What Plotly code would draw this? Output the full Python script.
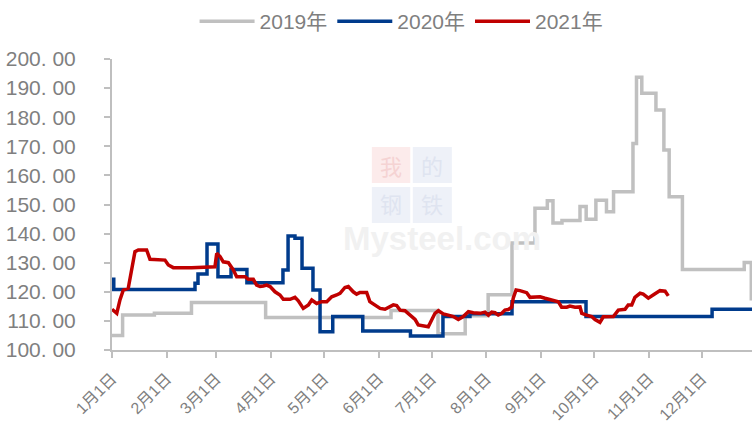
import plotly.graph_objects as go

# ---------------- data (x = day of year, 0 = 1月1日) ----------------
days_2019 = [0, 6, 24, 45, 87, 158, 184.6, 200, 213, 226.5, 239.5, 246.5, 249.7, 254.8,
             265, 268.5, 274, 280, 284, 295, 297, 300, 308, 312.5, 315.5, 323, 358, 362]
vals_2019 = [105, 112, 112.6, 116.3, 111.2, 113.6, 105.6, 111.8, 119, 136.8, 148.7, 151.3, 143.6, 144.5,
             149.3, 144.9, 151.5, 147.5, 154.4, 171, 193.7, 188.2, 182.5, 168.7, 152.7, 127.7, 130.1, 117]

days_2020 = [0, 1, 47, 48.7, 53.8, 60, 67.4, 76.4, 96.8, 99.7, 103.6, 107.6, 113.8, 117.8,
             125, 142, 169, 187.4, 202.7, 226.5, 268.4, 339.8, 362.4]
vals_2020 = [124.3, 120.8, 122.9, 126.1, 136.4, 125.2, 127.7, 123.1, 127.5, 139.2, 138.4, 128.1, 120.6, 106.3,
             111.5, 106.5, 104.8, 111.5, 112.5, 116.6, 111.5, 114, 114]

days_2021 = [0, 2.7, 4.5, 6.4, 9.2, 11.2, 13, 14.9, 19.6, 21.5, 30, 31.9, 34.7, 45.1, 58.3, 59.3, 61.2, 63,
             65.9, 66.8, 68.7, 70.6, 75.3, 77.2, 80, 81.9, 83.8, 85.7, 87.6, 89.5, 92.3, 95.1, 97, 100.8,
             103.6, 105.5, 108.3, 111.2, 113.1, 115.9, 118.7, 121.6, 124.4, 127.2, 129.1, 131.9, 133.8,
             136.6, 138.5, 140.4, 144.2, 146, 148.9, 151.8, 154.6, 157.4, 159.3, 161.2, 163.1, 165.9,
             168.7, 171.6, 173.4, 176.3, 179.1, 181, 182.9, 184.8, 187.6, 190.4, 193.3, 196.1, 198.9,
             201.8, 204.6, 208.4, 211.2, 213.1, 215, 216.9, 218.7, 220.7, 222.5, 224.4, 226.3, 227.2,
             228.8, 231, 234.8, 236.7, 239.5, 242.4, 245.2, 248, 250.8, 252.7, 254.6, 257.5, 259.3,
             262.2, 265, 266, 268.8, 271.6, 273.5, 276.3, 278.2, 281, 283.9, 286.7, 290.5, 292.3, 294.3,
             296.1, 299, 300.8, 303.7, 307.5, 310.3, 313.2, 315]
vals_2021 = [114, 112.6, 117.2, 120.6, 121.2, 128.6, 133.8, 134.4, 134.4, 131.2, 130.9, 129.2, 128.3, 128.3,
             128.6, 133.2, 132.1, 130.3, 130, 129.2, 127.5, 125.2, 125.2, 124.3, 124.3, 122.3, 121.8, 122,
             122.3, 121.8, 120, 118.9, 117.4, 117.4, 118.1, 116.9, 114.3, 115.5, 117.2, 116, 116.6, 116.6,
             118.3, 118.9, 119.5, 121.5, 121.8, 120, 119.2, 119.8, 119.8, 116.6, 115.5, 114.3, 114, 114.7,
             115.5, 115.3, 113.7, 113.5, 112, 110.5, 108.6, 108.2, 108, 110.3, 112.6, 113.5, 112.4, 112,
             111.5, 110.5, 111.5, 113.2, 112.8, 112.6, 113, 112, 113, 112.8, 112, 112.6, 113.7, 113.9,
             114.7, 117.8, 120.6, 120.4, 119.7, 118.1, 118.1, 118.3, 117.8, 117.4, 116.9, 116.6, 114.7,
             114.7, 115.1, 114.7, 114.8, 112.6, 112, 111.5, 110.5, 109.5, 111.4, 111.4, 111.5, 113.7,
             114, 115.5, 115.5, 118.1, 119.5, 119.2, 117.8, 119.3, 120.4, 120.2, 118.6]

series_names = ["2019年", "2020年", "2021年"]

month_start_days = [0, 31, 59, 90, 120, 151, 181, 212, 243, 273, 304, 334]
month_labels = ["1月1日", "2月1日", "3月1日", "4月1日", "5月1日", "6月1日",
                "7月1日", "8月1日", "9月1日", "10月1日", "11月1日", "12月1日"]

y_ticks = [100, 110, 120, 130, 140, 150, 160, 170, 180, 190, 200]
y_tick_labels = ["100. 00", "110. 00", "120. 00", "130. 00", "140. 00", "150. 00",
                 "160. 00", "170. 00", "180. 00", "190. 00", "200. 00"]

# ---------------- figure ----------------
FONT = "Liberation Sans, Noto Sans CJK SC, sans-serif"
GRAY_TXT = "#7f7f7f"
AXIS = "#bfbfbf"

fig = go.Figure()
fig.add_trace(go.Scatter(x=days_2019, y=vals_2019, name=series_names[0], mode="lines",
                         line=dict(color="#c0c0c0", width=3.5, shape="hv")))
fig.add_trace(go.Scatter(x=days_2020, y=vals_2020, name=series_names[1], mode="lines",
                         line=dict(color="#003b8c", width=3.5, shape="hv")))
fig.add_trace(go.Scatter(x=days_2021, y=vals_2021, name=series_names[2], mode="lines",
                         line=dict(color="#c00000", width=3.5, shape="linear")))

# watermark (faint, behind data)
shapes = []
boxes = [(0.406, 0.466, 0.574, 0.698, "#fcebeb"), (0.470, 0.531, 0.574, 0.698, "#eef1f8"),
         (0.406, 0.466, 0.436, 0.560, "#eef1f8"), (0.470, 0.531, 0.436, 0.560, "#eef1f8")]
for x0, x1, y0, y1, c in boxes:
    shapes.append(dict(type="rect", xref="paper", yref="paper", x0=x0, x1=x1, y0=y0, y1=y1,
                       fillcolor=c, line=dict(width=0), layer="below"))
annotations = []
chars = [("我", 0.436, 0.636, "#f5d3d3"), ("的", 0.5005, 0.636, "#dfe4f0"),
         ("钢", 0.436, 0.505, "#dfe4f0"), ("铁", 0.5005, 0.505, "#dfe4f0")]
for t, x, y, c in chars:
    annotations.append(dict(text=t, x=x, y=y, xref="paper", yref="paper", showarrow=False,
                            borderpad=0,
                            font=dict(size=22, color=c, family="Noto Sans CJK SC")))
annotations.append(dict(text="<b>Mysteel.com</b>", x=0.36, y=0.383, xref="paper", yref="paper",
                        xanchor="left", showarrow=False, borderpad=0,
                        font=dict(size=33, color="#f1f1f1", family="Liberation Sans")))

fig.update_layout(
    width=752, height=432,
    margin=dict(l=112, r=0, t=59, b=82, autoexpand=False),
    paper_bgcolor="white", plot_bgcolor="white",
    font=dict(family=FONT, color=GRAY_TXT),
    shapes=shapes, annotations=annotations,
    legend=dict(orientation="h", x=0.534, xref="container", xanchor="center",
                y=0.95, yref="container", yanchor="middle",
                font=dict(size=21, color=GRAY_TXT), itemwidth=55,
                bgcolor="rgba(0,0,0,0)", traceorder="normal"),
    xaxis=dict(range=[0, 362.4], tickmode="array", tickvals=month_start_days, ticktext=month_labels,
               tickangle=-45, tickfont=dict(size=16, color=GRAY_TXT), automargin=False,
               showgrid=False, zeroline=False, showline=True, linecolor=AXIS, linewidth=2,
               ticks="outside", ticklen=6, tickwidth=2, tickcolor=AXIS, ticklabelstandoff=5),
    yaxis=dict(range=[100, 200], tickmode="array", tickvals=y_ticks, ticktext=y_tick_labels,
               tickfont=dict(size=21, color=GRAY_TXT), automargin=False,
               showgrid=False, zeroline=False, showline=True, linecolor=AXIS, linewidth=2,
               ticks="outside", ticklen=6, tickwidth=2, tickcolor=AXIS, ticklabelstandoff=24),
)

fig.write_html("out.html", config={"displayModeBar": False, "staticPlot": True},
               post_script="document.body.style.margin='0';document.body.style.overflow='hidden';")
